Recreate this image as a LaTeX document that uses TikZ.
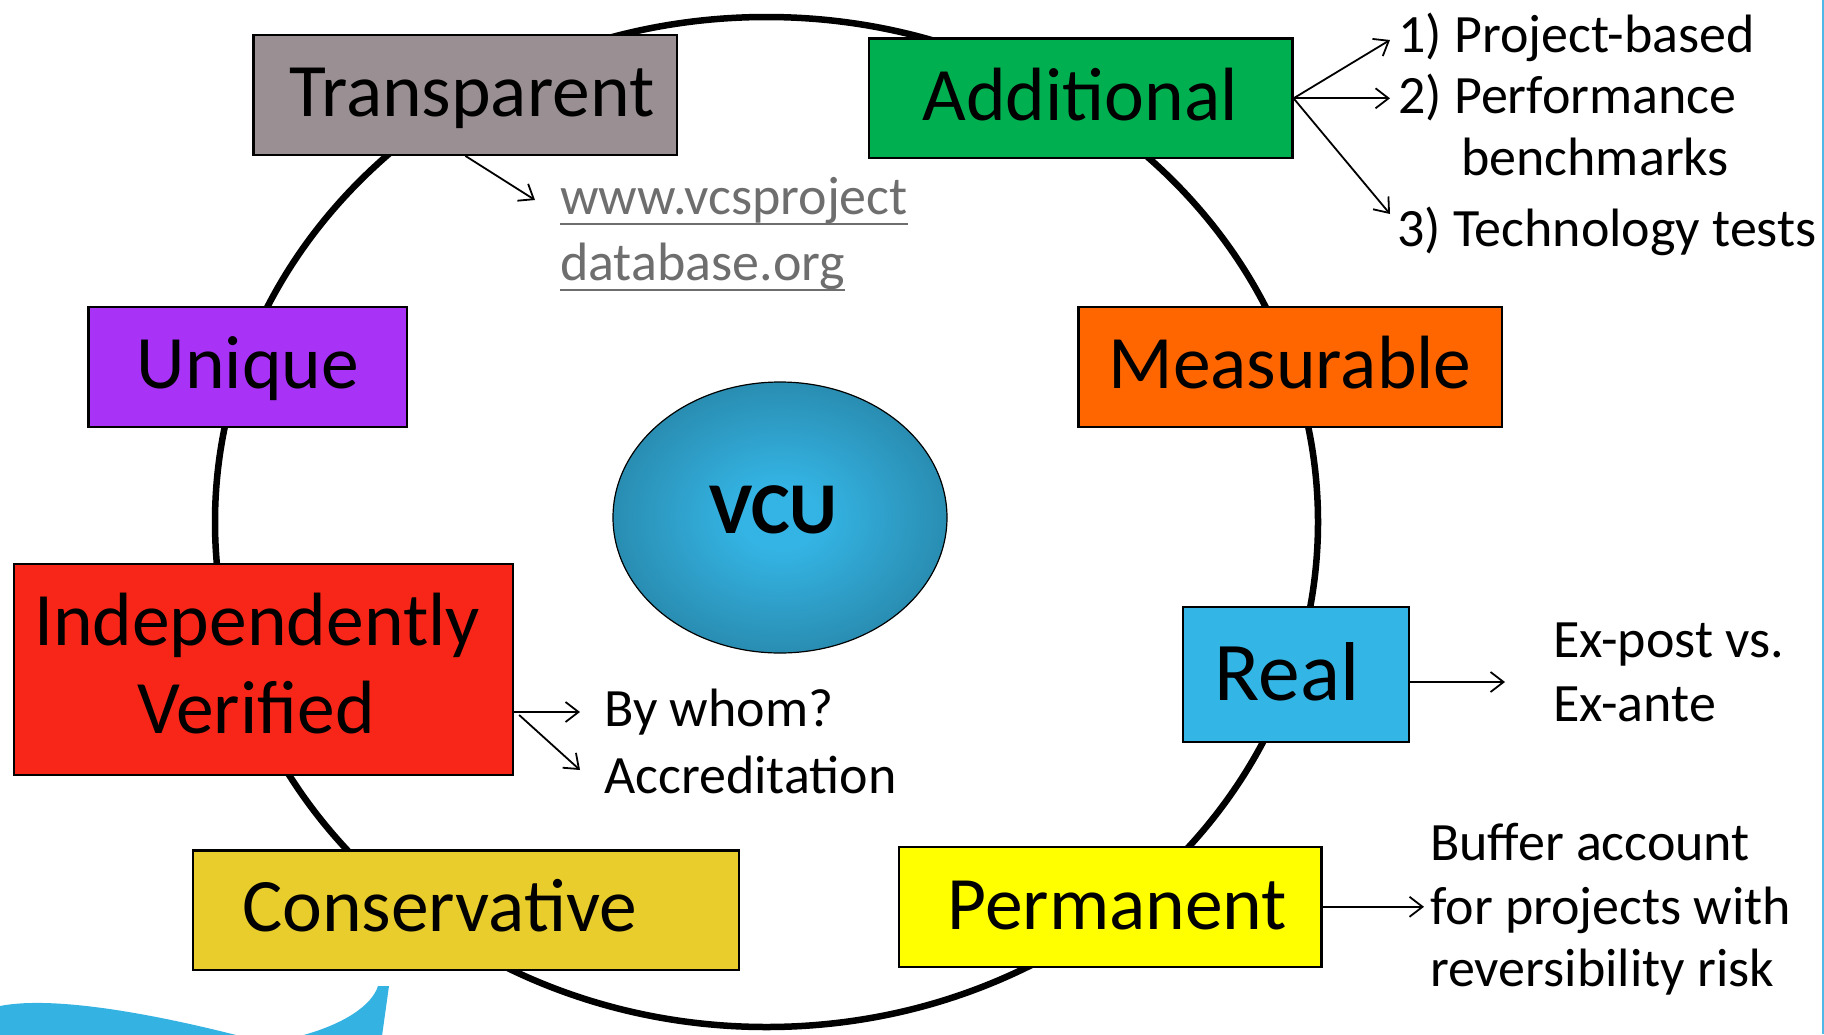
\documentclass[tikz,border=0pt]{standalone}
\usepackage{fontspec}
\setmainfont{Carlito}
\usetikzlibrary{arrows.meta,shapes.geometric}
\definecolor{cTrans}{RGB}{154,144,148}
\definecolor{cAdd}{RGB}{0,176,80}
\definecolor{cUni}{RGB}{168,50,245}
\definecolor{cMeas}{RGB}{255,102,0}
\definecolor{cIV}{RGB}{248,38,24}
\definecolor{cReal}{RGB}{51,181,229}
\definecolor{cCons}{RGB}{232,205,44}
\definecolor{cPerm}{RGB}{255,255,0}
\definecolor{urlgray}{RGB}{110,110,110}
\definecolor{swoosh}{RGB}{52,179,227}
\definecolor{edgeblue}{RGB}{80,184,230}
\definecolor{vcuin}{RGB}{52,180,228}
\definecolor{vcuout}{RGB}{28,90,112}
\pgfdeclareradialshading{vcushade}{\pgfpoint{0bp}{0bp}}{color(0bp)=(vcuin); color(6bp)=(vcuin); color(50bp)=(vcuout)}
\begin{document}
\begin{tikzpicture}[x=1pt,y=-1pt,
  box/.style={draw=black, line width=2.3pt, rectangle, inner sep=0pt},
  lab/.style={font=\fontsize{75.5}{90}\selectfont, inner sep=0pt, anchor=base},
  note/.style={font=\fontsize{54}{65}\selectfont, inner sep=0pt, anchor=base west},
  arr/.style={line width=1.8pt, -{Straight Barb[length=13pt,width=20pt]}}]
\useasboundingbox (0,0) rectangle (1824,1034);
\fill[white] (0,0) rectangle (1824,1034);
% decorative swoosh and border line
\fill[swoosh] (0,1036) -- (0,1006) .. controls (45,997) and (130,1008) .. (240,1036) -- (300,1036)
  .. controls (345,1024) and (372,1005) .. (378,986) -- (389,986) -- (382,1036) -- cycle;
\draw[edgeblue, line width=2pt] (1822.5,0) -- (1822.5,1034);
% ring
\draw[line width=6.5pt] (766.5,522) ellipse [x radius=551.5pt, y radius=505pt];
% boxes
\node[box, fill=cTrans, minimum width=423.4pt, minimum height=119.8pt] (trans) at (465.3,94.8) {};
\node[box, fill=cAdd,   minimum width=423.4pt, minimum height=119.8pt] (add)   at (1080.7,98.3) {};
\node[box, fill=cUni,   minimum width=318.8pt, minimum height=119.8pt] (uni)   at (247.8,367) {};
\node[box, fill=cMeas,  minimum width=423.4pt, minimum height=119.8pt] (meas)  at (1290.1,367) {};
\node[box, fill=cIV,    minimum width=499pt,   minimum height=210.6pt] (iv)    at (263.5,669.5) {};
\node[box, fill=cReal,  minimum width=225.7pt, minimum height=135pt]   (real)  at (1296,674.7) {};
\node[box, fill=cCons,  minimum width=545.6pt, minimum height=119.8pt] (cons)  at (465.9,910.3) {};
\node[box, fill=cPerm,  minimum width=422.3pt, minimum height=119.8pt] (perm)  at (1110.4,906.8) {};
% box labels
\node[lab] (ltrans) at (471.7,116) {Transparent};
\node[lab] (ladd)   at (1080,120) {Additional};
\node[lab] (luni)   at (247.8,388) {Unique};
\node[lab] (lmeas)  at (1290,388) {Measurable};
\node[lab] (liv1)   at (257,645) {Independently};
\node[lab] (liv2)   at (256,733) {Verified};
\node[lab, font=\fontsize{83.5}{100}\selectfont] (lreal) at (1287,700) {Real};
\node[lab] (lcons)  at (439.7,931) {Conservative};
\node[lab] (lperm)  at (1117.4,929) {Permanent};
% centre
\node[ellipse, draw=black, line width=1.2pt, shading=vcushade, minimum width=334pt, minimum height=271pt, inner sep=0pt] (vcu) at (780,517.5) {};
\node[inner sep=0pt, anchor=base, font=\fontsize{73}{88}\selectfont\bfseries] (lvcu) at (773.5,533) {VCU};
% notes
\node[note, text=urlgray] (u1) at (560,214) {www.vcsproject};
\node[note, text=urlgray] (u2) at (560,280) {database.org};
\draw[urlgray, line width=2.3pt] ([yshift=-10pt]u1.base west) -- ([yshift=-10pt]u1.base east);
\draw[urlgray, line width=2.3pt] ([yshift=-10pt]u2.base west) -- ([yshift=-10pt]u2.base east);
\node[note] (a1) at (1398,52) {1) Project-based};
\node[note] (a2) at (1398,113) {2) Performance};
\node[note] (a2b) at (1461,175) {benchmarks};
\node[note] (a3) at (1397,246) {3) Technology tests};
\node[note] (w1) at (604,726) {By whom?};
\node[note] (w2) at (604,793) {Accreditation};
\node[note] (e1) at (1553,657) {Ex-post vs.};
\node[note] (e2) at (1553,721) {Ex-ante};
\node[note] (b1) at (1430,860) {Buffer account};
\node[note] (b2) at (1430,924) {for projects with};
\node[note] (b3) at (1430,986) {reversibility risk};
% arrow end points
\coordinate (pUrl) at (535,200);
\coordinate (pA1) at (1390,40);
\coordinate (pA2) at (1390,98.3);
\coordinate (pA3) at (1390,214);
\coordinate (pW1) at (580,712);
\coordinate (pW2) at (580,770);
\coordinate (pE) at (1505,682);
\coordinate (pB) at (1424,906.8);
% connectors
\draw[arr] (trans.south) -- (pUrl);
\draw[arr] (add.east) -- (pA1);
\draw[arr] (add.east) -- (pA2);
\draw[arr] (add.east) -- (pA3);
\draw[arr] ([yshift=-42.5pt]iv.east) -- (pW1);
\draw[arr] ([xshift=5pt,yshift=-45.5pt]iv.east) -- (pW2);
\draw[arr] ([yshift=-7.3pt]real.east) -- (pE);
\draw[arr] (perm.east) -- (pB);
\end{tikzpicture}
\end{document}
